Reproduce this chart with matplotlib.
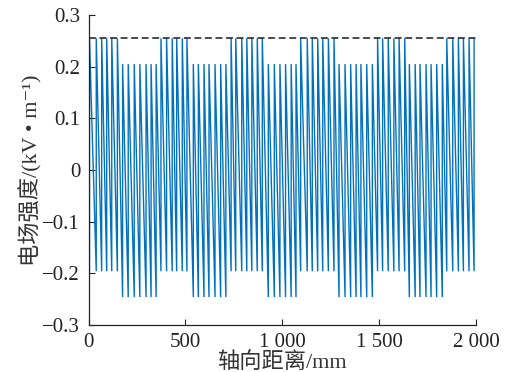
import matplotlib
matplotlib.use("Agg")
import matplotlib.pyplot as plt
import numpy as np

# ---- data (axial distance in mm) ----
pulse_x_mm = [
    5, 40, 68, 94, 120, 149,                      # group 1 (high)
    176, 205, 236, 265, 297, 323, 349,            # group 2 (low)
    374, 403, 432, 455, 484, 508,                 # group 3 (high)
    541, 567, 596, 622, 653, 682, 709,            # group 4 (low)
    736, 760, 791, 817, 843, 871, 897,            # group 5 (high)
    928, 959, 988, 1017, 1046, 1071,              # group 6 (low)
    1095, 1129, 1155, 1183, 1209, 1238, 1267,     # group 7 (high)
    1293, 1324, 1353, 1381, 1406, 1436, 1465,     # group 8 (low)
    1492, 1518, 1547, 1576, 1603, 1632,           # group 9 (high)
    1656, 1686, 1711, 1742, 1768, 1797, 1826,     # group 10 (low)
    1849, 1880, 1909, 1935, 1964, 1990,           # group 11 (high)
]
group_sizes = [6, 7, 6, 7, 7, 6, 7, 7, 6, 7, 6]
group_top = [0.255, 0.205, 0.255, 0.205, 0.255, 0.205, 0.255, 0.205, 0.255, 0.205, 0.255]
group_bottom = [-0.196, -0.246, -0.196, -0.246, -0.196, -0.246, -0.196, -0.246, -0.196, -0.246, -0.196]
ref_level = 0.255

x_ticks = [0, 500, 1000, 1500, 2000]
x_ticklabels = ["0", "500", "1 000", "1 500", "2 000"]
y_ticks = [-0.3, -0.2, -0.1, 0, 0.1, 0.2, 0.3]
y_ticklabels = ["\u22120.3", "\u22120.2", "\u22120.1", "0", "0.1", "0.2", "0.3"]

# ---- build polyline (vertical rise at each pulse, steep fall to the next) ----
tops = np.repeat(group_top, group_sizes)
bottoms = np.repeat(group_bottom, group_sizes)
xs, ys = [], []
for x, t, b in zip(pulse_x_mm, tops, bottoms):
    xs += [x, x]
    ys += [b, t]

plt.rcParams["font.family"] = ["Liberation Serif", "Noto Sans CJK SC", "DejaVu Sans"]

fig = plt.figure(figsize=(5.05, 3.72), dpi=100)
ax = fig.add_axes([88.5 / 505, 47 / 372, (476 - 88.5) / 505, 310 / 372])

ax.plot(xs, ys, color="#0072BD", lw=1.0, solid_capstyle="butt", solid_joinstyle="miter")
ax.plot([0, 2000], [ref_level, ref_level], color="#1a1a1a", lw=1.1,
        dashes=(4.5, 2.4))

ax.set_xlim(0, 2000)
ax.set_ylim(-0.3, 0.3)
ax.set_xticks(x_ticks)
ax.set_xticklabels(x_ticklabels)
ax.set_yticks(y_ticks)
ax.set_yticklabels(y_ticklabels)
ax.tick_params(direction="in", length=4, width=0.8, labelsize=15, pad=6,
               colors="#222222")
for s in ["top", "right"]:
    ax.spines[s].set_visible(False)
for s in ["left", "bottom"]:
    ax.spines[s].set_linewidth(0.9)
    ax.spines[s].set_color("#222222")

ax.set_xlabel("轴向距离/mm", fontsize=16, labelpad=0, color="#333333")
ax.set_ylabel("电场强度/(kV • m\u207b\u00b9)", fontsize=16, labelpad=0,
              color="#333333")

fig.savefig("out.png", dpi=100)
